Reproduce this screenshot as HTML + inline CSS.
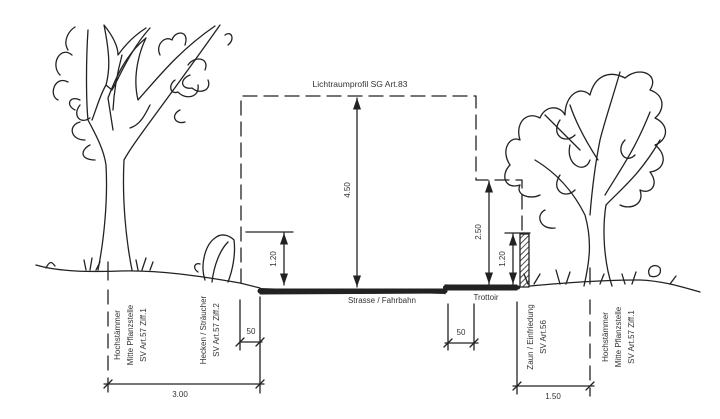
<!DOCTYPE html>
<html><head><meta charset="utf-8"><style>
html,body{margin:0;padding:0;background:#fff;}
svg{display:block;}
text{font-family:"Liberation Sans",sans-serif;fill:#333;}
</style></head><body>
<svg width="720" height="419" viewBox="0 0 720 419" xmlns="http://www.w3.org/2000/svg">
<defs>
<marker id="a" viewBox="0 0 10 10" refX="10" refY="5" markerWidth="9" markerHeight="9" orient="auto-start-reverse"><path d="M0,1.5 L10,5 L0,8.5 Z" fill="#222"/></marker>
<pattern id="h" width="4" height="4" patternUnits="userSpaceOnUse" patternTransform="rotate(45)"><rect width="4" height="4" fill="#fff"/><line x1="0" y1="0" x2="0" y2="4" stroke="#222" stroke-width="1.6"/></pattern>
</defs>
<g fill="none" stroke="#222" stroke-width="1.3" stroke-linecap="round" stroke-linejoin="round">
<!-- ground -->
<path d="M36,265 C60,272 90,272 120,271 C160,270 200,276 240,283 L260,288"/>
<path d="M445,285 L520,287 C560,283 600,280 640,280 C665,281 685,288 700,292"/>
<!-- road -->
<path d="M260,288 L260,294 L445,293 L445,285 L517,285 L517,290 L445,290 L445,294" fill="#222" stroke-width="1"/>
<path d="M260,291 L445,291" stroke-width="5"/>
<path d="M445,287.5 L518,287.5" stroke-width="4"/>
<!-- lichtraum dashed -->
<path d="M241,283 L241,96 L476,96 L476,180 L522,180 L522,234" stroke-dasharray="14,7"/>
<!-- dims -->
<line x1="357" y1="98" x2="357" y2="287" marker-start="url(#a)" marker-end="url(#a)"/>
<line x1="246" y1="232" x2="293" y2="232"/>
<line x1="284" y1="233" x2="284" y2="285" marker-start="url(#a)" marker-end="url(#a)"/>
<line x1="489" y1="181" x2="489" y2="284" marker-start="url(#a)" marker-end="url(#a)"/>
<line x1="505" y1="233" x2="530" y2="233"/>
<line x1="513" y1="234" x2="513" y2="284" marker-start="url(#a)" marker-end="url(#a)"/>
<rect x="520" y="234" width="9" height="53" fill="url(#h)"/>
<!-- bottom dims -->
<line x1="108" y1="262" x2="108" y2="280"/>
<line x1="108" y1="290" x2="108" y2="392" stroke-dasharray="14,8"/>
<line x1="260" y1="297" x2="260" y2="393"/>
<line x1="240" y1="300" x2="240" y2="350"/>
<line x1="240" y1="342" x2="262" y2="342"/>
<line x1="104" y1="384" x2="264" y2="384"/>
<path d="M236,346 L244,338 M256,346 L264,338 M104,388 L112,380 M256,388 L264,380"/>
<line x1="448" y1="304" x2="448" y2="350"/>
<line x1="474" y1="304" x2="474" y2="350"/>
<line x1="445" y1="343" x2="478" y2="343"/>
<path d="M444,347 L452,339 M470,347 L478,339"/>
<line x1="517" y1="302" x2="517" y2="394"/>
<line x1="590" y1="268" x2="590" y2="284"/>
<line x1="590" y1="300" x2="590" y2="396" stroke-dasharray="14,8"/>
<line x1="513" y1="386" x2="594" y2="386"/>
<path d="M513,390 L521,382 M586,390 L594,382"/>
<!-- left tree -->
<path d="M98,270 C104,240 108,200 106,165 C104,150 96,135 88,120 C86,100 86,60 88,30"/>
<path d="M132,270 C126,240 122,200 124,160 C135,140 160,110 220,25"/>
<path d="M92,120 C96,110 100,95 106,85 C110,70 110,55 104,25 C112,35 118,45 118,55 C125,45 135,35 146,28"/>
<path d="M106,85 L112,90 C118,80 130,50 150,28"/>
<path d="M113,130 L108,98 C115,80 125,55 146,38 C140,50 132,75 138,100 C160,75 180,50 215,26"/>
<path d="M122,55 C118,70 114,90 113,110"/>
<path d="M68,50 C62,40 70,30 75,27 M60,75 C50,65 60,45 72,55 M58,100 C48,95 55,75 68,82 M75,110 C65,105 70,95 80,100 M90,118 C80,125 72,115 80,105 M85,140 C70,140 68,125 80,122 M90,145 C80,150 80,160 95,160"/>
<path d="M160,55 C155,45 165,35 172,40 C175,30 190,30 185,45 M175,80 C168,85 170,95 178,92 C185,100 200,98 198,85 M188,65 C195,55 210,58 205,70 M180,110 C170,115 175,125 185,122 M190,75 C178,80 182,90 192,88 C200,95 212,90 208,80 M225,35 C232,30 235,40 228,45 M150,105 C145,115 140,125 130,128"/>
<!-- shrub left -->
<path d="M205,280 C200,265 205,245 215,238 C222,232 230,236 234,240 C236,255 232,272 228,282"/>
<path d="M212,282 C214,265 220,250 228,242"/>
<path d="M198,272 C192,268 195,262 200,264 M46,268 C50,260 52,262 55,266 M86,270 L84,260 M90,270 L92,258 M96,270 L100,262 M138,270 L136,260 M142,270 L146,258 M150,270 L153,262"/>
<!-- right tree -->
<path d="M584,286 C590,260 592,240 585,215 C575,195 560,175 535,160"/>
<path d="M612,286 C604,262 602,230 606,205 C620,190 640,175 660,140"/>
<path d="M590,215 C592,190 595,165 600,140 C605,120 612,100 620,72"/>
<path d="M598,160 C585,140 575,120 570,105 M580,150 C570,140 555,125 545,115 M605,195 C620,170 635,150 650,112"/>
<path d="M510,165 C500,150 510,135 520,140 C515,125 525,110 540,118 C545,105 560,105 565,115 C565,95 580,85 590,95 C595,75 610,70 625,78 C640,65 660,75 650,90 C665,95 665,110 655,118 C670,125 668,140 655,145 C668,155 665,170 650,172 C660,185 650,195 640,190 C645,205 630,210 620,205"/>
<path d="M510,165 C500,175 505,190 520,185 C515,195 530,200 540,195 M545,210 C535,215 540,230 555,228 M560,175 C550,190 565,200 575,190 M570,145 C565,165 585,175 590,160 M625,140 C615,150 625,165 635,155 M560,120 C550,135 565,145 575,135"/>
<path d="M528,284 L524,274 M534,284 L540,274 M560,284 L556,270 M566,284 L570,272 M600,284 L604,274 M625,284 L622,274 M632,284 L636,272 M650,276 C645,268 655,262 660,268 C662,275 656,278 650,276 M670,284 L676,276"/>
</g>
<!-- texts -->
<text x="360" y="87" font-size="8.5" text-anchor="middle">Lichtraumprofil SG Art.83</text>
<text x="382" y="303" font-size="8" text-anchor="middle">Strasse / Fahrbahn</text>
<text x="486" y="300" font-size="8" text-anchor="middle">Trottoir</text>
<text x="251" y="334" font-size="8" text-anchor="middle">50</text>
<text x="461" y="335" font-size="8" text-anchor="middle">50</text>
<text x="180" y="397" font-size="8" text-anchor="middle">3.00</text>
<text x="553" y="399" font-size="8" text-anchor="middle">1.50</text>
<g font-size="8" text-anchor="middle">
<text transform="translate(350,190) rotate(-90)">4.50</text>
<text transform="translate(276,259) rotate(-90)">1.20</text>
<text transform="translate(481,232) rotate(-90)">2.50</text>
<text transform="translate(505,259) rotate(-90)">1.20</text>
<text transform="translate(120,335) rotate(-90)">Hochstämmer</text>
<text transform="translate(133,335) rotate(-90)">Mitte Pflanzstelle</text>
<text transform="translate(146,335) rotate(-90)">SV Art.57 Ziff.1</text>
<text transform="translate(206,330) rotate(-90)">Hecken / Sträucher</text>
<text transform="translate(219,330) rotate(-90)">SV Art.57 Ziff.2</text>
<text transform="translate(533,337) rotate(-90)">Zaun / Einfriedung</text>
<text transform="translate(546,337) rotate(-90)">SV Art.56</text>
<text transform="translate(608,337) rotate(-90)">Hochstämmer</text>
<text transform="translate(621,337) rotate(-90)">Mitte Pflanzstelle</text>
<text transform="translate(634,337) rotate(-90)">SV Art.57 Ziff.1</text>
</g>
</svg>
</body></html>
